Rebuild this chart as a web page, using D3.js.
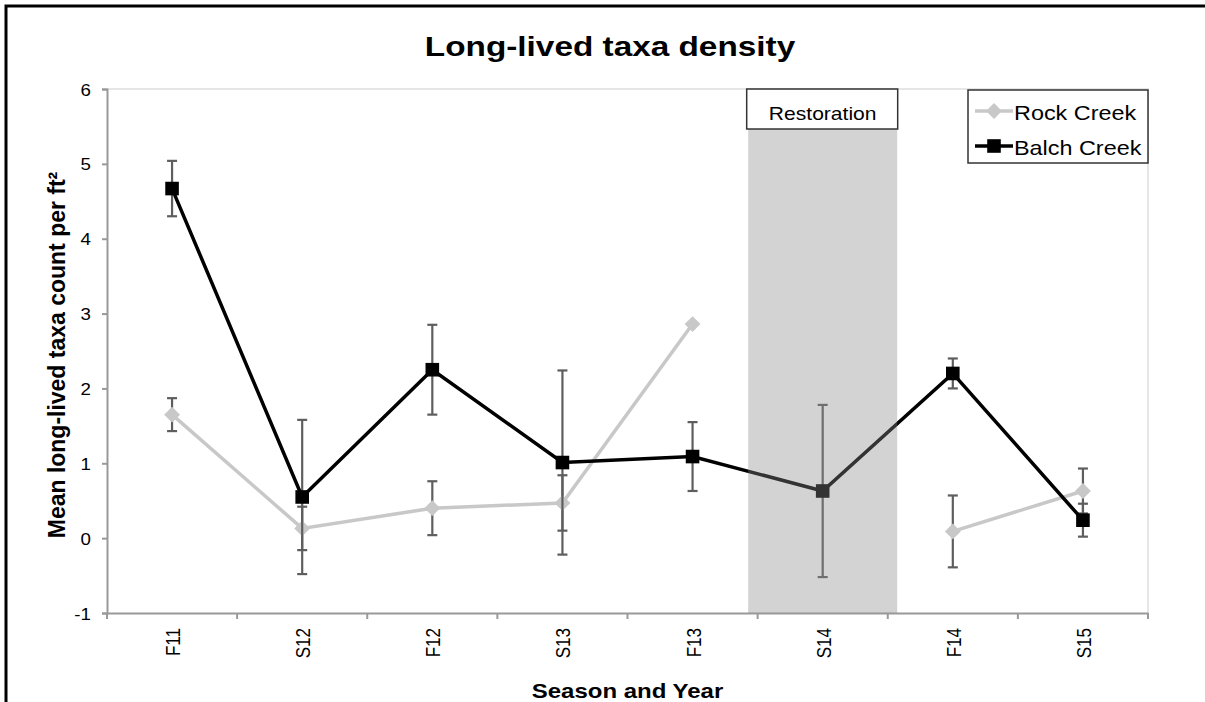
<!DOCTYPE html>
<html>
<head>
<meta charset="utf-8">
<script src="https://cdn.jsdelivr.net/npm/d3@7"></script>
<style>
  body { margin: 0; background: #fff; }
  text { font-family: "Liberation Sans", Arial, sans-serif; }
</style>
</head>
<body>
<script>
const seasons = ["F11", "S12", "F12", "S13", "F13", "S14", "F14", "S15"];
const rockMean = [1.65, 0.13, 0.40, 0.47, 2.86, null, 0.09, 0.63];
const rockErr  = [0.22, 0.29, 0.36, 0.37, null, null, 0.48, 0.30];
const balchMean = [4.67, 0.55, 2.25, 1.01, 1.09, 0.63, 2.20, 0.24];
const balchErr  = [0.37, 1.03, 0.60, 1.23, 0.46, 1.15, 0.20, 0.22];
const yTicks = [-1, 0, 1, 2, 3, 4, 5, 6];
const restorationSeason = "S14";

let margin = {top: 89, right: 57, bottom: 89, left: 107},
  width = 1205 - margin.left - margin.right,
  height = 702 - margin.top - margin.bottom;

// the source picture is a bit wider than tall, so text is stretched sideways
const stretch = 1.17;
const place = (sel, px, py) => sel.attr("transform", `translate(${px},${py}) scale(${stretch},1)`);

const root = d3.select("body")
  .append("svg")
  .attr("width", 1205)
  .attr("height", 702);

// outer frame
root.append("rect")
  .attr("x", 6).attr("y", 6)
  .attr("width", 1220).attr("height", 720)
  .attr("fill", "none")
  .attr("stroke", "#000")
  .attr("stroke-width", 3);

root.append("text")
  .call(place, 610, 56)
  .attr("text-anchor", "middle")
  .style("font-size", "28.5px")
  .style("font-weight", "bold")
  .text("Long-lived taxa density");

const svg = root.append("g")
  .attr("transform", "translate(" + margin.left + "," + margin.top + ")");

let x = d3.scaleBand()
  .domain(seasons)
  .range([0, width]);

let y = d3.scaleLinear()
  .domain([-1, 6])
  .range([height, 0]);

const cx = s => x(s) + x.bandwidth() / 2;

// plot frame, top and right
svg.append("path")
  .attr("d", `M0,${y(6)}H${width}V${height}`)
  .attr("fill", "none")
  .attr("stroke", "#e6e6e6")
  .attr("stroke-width", 2);

// axes
const yAxis = svg.append("g")
  .call(d3.axisLeft(y).tickValues(yTicks).tickSize(5)
    .tickFormat(d => d < 0 ? "-" + Math.abs(d) : String(d)));
const xAxis = svg.append("g")
  .attr("transform", `translate(0,${height})`)
  .call(d3.axisBottom(x).tickSize(0));

[yAxis, xAxis].forEach(a => {
  a.select(".domain").attr("stroke", "#999").attr("stroke-width", 2);
  a.selectAll("line").attr("stroke", "#999").attr("stroke-width", 2);
  a.selectAll("text").attr("fill", "#000");
});

yAxis.selectAll(".tick text")
  .attr("x", null)
  .attr("dy", null)
  .call(place, -16, 6)
  .style("font-size", "16px");

xAxis.selectAll(".tick text")
  .attr("transform", `rotate(-90) scale(1,${stretch})`)
  .attr("text-anchor", "end")
  .attr("x", -15)
  .attr("y", 0)
  .attr("dy", "0.4em")
  .style("font-size", "17px");

// band boundary ticks
xAxis.selectAll(".bound")
  .data(d3.range(seasons.length + 1))
  .join("line")
  .attr("x1", i => i * x.bandwidth())
  .attr("x2", i => i * x.bandwidth())
  .attr("y1", 0).attr("y2", 6)
  .attr("stroke", "#999")
  .attr("stroke-width", 2);

svg.append("text")
  .attr("transform", `translate(-42,${height / 2 + 4}) rotate(-90) scale(1,1.08)`)
  .attr("text-anchor", "middle")
  .style("font-size", "23px")
  .style("font-weight", "bold")
  .text("Mean long-lived taxa count per ft²");

svg.append("text")
  .call(place, width / 2, height + 85)
  .attr("text-anchor", "middle")
  .style("font-size", "20.5px")
  .style("font-weight", "bold")
  .text("Season and Year");

const series = [
  {name: "Rock Creek", mean: rockMean, err: rockErr, color: "#c8c8c8", shape: d3.symbolDiamond2, size: 160},
  {name: "Balch Creek", mean: balchMean, err: balchErr, color: "#000", shape: d3.symbolSquare, size: 185}
];

series.forEach(s => {
  const pts = seasons.map((k, i) => ({k: k, v: s.mean[i], e: s.err[i]}));

  svg.append("path")
    .datum(pts)
    .attr("fill", "none")
    .attr("stroke", s.color)
    .attr("stroke-width", 3.5)
    .attr("d", d3.line()
      .defined(d => d.v != null)
      .x(d => cx(d.k))
      .y(d => y(d.v)));

  const eb = pts.filter(d => d.v != null && d.e != null);
  const g = svg.append("g").attr("stroke", "#5e5e5e").attr("stroke-width", 2.2);
  g.selectAll(".v").data(eb).join("line")
    .attr("x1", d => cx(d.k)).attr("x2", d => cx(d.k))
    .attr("y1", d => y(d.v - d.e)).attr("y2", d => y(d.v + d.e));
  g.selectAll(".t").data(eb).join("line")
    .attr("x1", d => cx(d.k) - 5).attr("x2", d => cx(d.k) + 5)
    .attr("y1", d => y(d.v + d.e)).attr("y2", d => y(d.v + d.e));
  g.selectAll(".b").data(eb).join("line")
    .attr("x1", d => cx(d.k) - 5).attr("x2", d => cx(d.k) + 5)
    .attr("y1", d => y(d.v - d.e)).attr("y2", d => y(d.v - d.e));

  svg.selectAll(null)
    .data(pts.filter(d => d.v != null))
    .join("path")
    .attr("transform", d => `translate(${cx(d.k)},${y(d.v)})`)
    .attr("d", d3.symbol().type(s.shape).size(s.size))
    .attr("fill", s.color);
});

// restoration shading, laid over the data
const rw = x.bandwidth() * 1.145;
svg.append("rect")
  .attr("x", cx(restorationSeason) - rw / 2)
  .attr("y", y(6))
  .attr("width", rw)
  .attr("height", y(-1) - y(6))
  .attr("fill", "#898989")
  .attr("fill-opacity", 0.373);

svg.append("rect")
  .attr("x", cx(restorationSeason) - 76)
  .attr("y", y(6))
  .attr("width", 151)
  .attr("height", 40)
  .attr("fill", "#fff")
  .attr("stroke", "#333")
  .attr("stroke-width", 1.5);
svg.append("text")
  .call(place, cx(restorationSeason), y(6) + 31)
  .attr("text-anchor", "middle")
  .style("font-size", "18px")
  .text("Restoration");

// legend
const legend = svg.append("g")
  .attr("transform", `translate(${width - 180},1)`);
legend.append("rect")
  .attr("width", 180).attr("height", 73)
  .attr("fill", "#fff")
  .attr("stroke", "#333")
  .attr("stroke-width", 1.5);
series.forEach((s, i) => {
  const ly = 21 + i * 35;
  legend.append("line")
    .attr("x1", 7).attr("x2", 45)
    .attr("y1", ly).attr("y2", ly)
    .attr("stroke", s.color).attr("stroke-width", 3.5);
  legend.append("path")
    .attr("transform", `translate(26,${ly})`)
    .attr("d", d3.symbol().type(s.shape).size(s.size))
    .attr("fill", s.color);
  legend.append("text")
    .call(place, 46, ly + 9)
    .style("font-size", "20px")
    .text(s.name);
});
</script>
</body>
</html>
